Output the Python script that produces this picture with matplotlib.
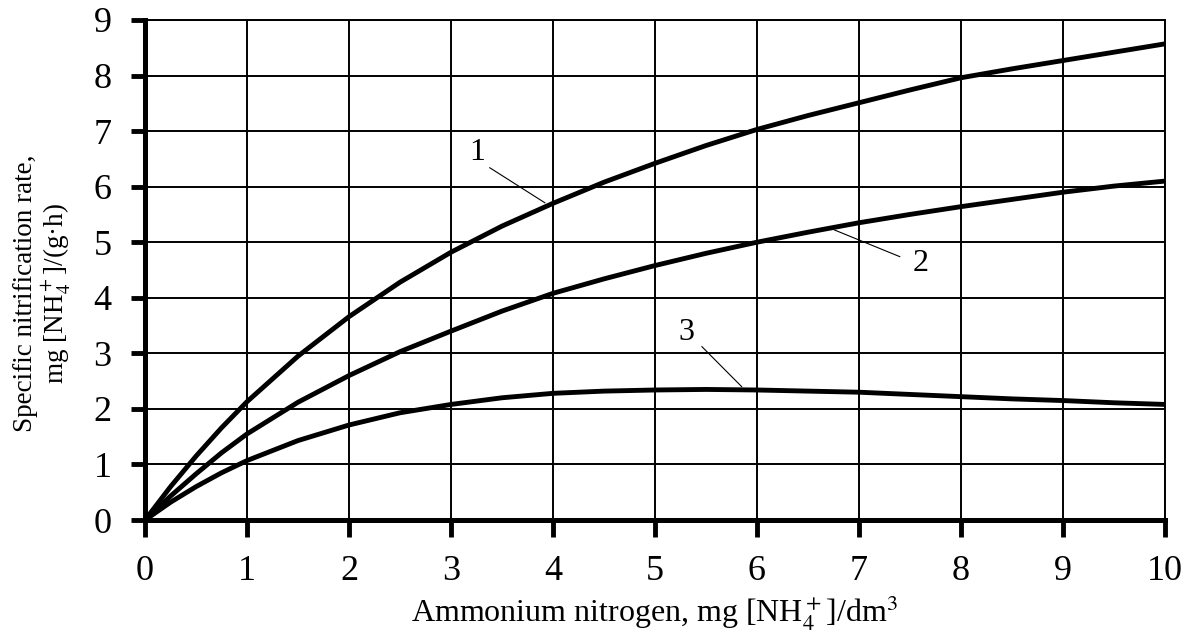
import matplotlib.pyplot as plt
import numpy as np

# values
x = [0, 0.25, 0.5, 0.75, 1, 1.5, 2, 2.5, 3, 3.5, 4, 4.5, 5, 5.5, 6, 6.5, 7, 7.5, 8, 8.5, 9, 9.5, 10]
rate_1 = [0, 0.60, 1.15, 1.66, 2.13, 2.95, 3.66, 4.28, 4.82, 5.29, 5.70, 6.08, 6.42, 6.74, 7.03,
          7.28, 7.51, 7.74, 7.96, 8.12, 8.27, 8.42, 8.57]
rate_2 = [0, 0.43, 0.83, 1.21, 1.55, 2.12, 2.60, 3.03, 3.40, 3.76, 4.08, 4.34, 4.58, 4.80, 5.00,
          5.18, 5.35, 5.50, 5.64, 5.77, 5.90, 6.01, 6.10]
rate_3 = [0, 0.32, 0.60, 0.85, 1.07, 1.43, 1.71, 1.93, 2.08, 2.20, 2.28, 2.32, 2.34, 2.35, 2.34,
          2.32, 2.30, 2.26, 2.22, 2.18, 2.15, 2.11, 2.08]

curve_labels = ['1', '2', '3']
label_pos = [(3.26, 6.61), (7.60, 4.62), (5.31, 3.37)]
leader_start = [(3.38, 6.34), (7.40, 4.74), (5.46, 3.12)]
leader_end = [(3.92, 5.71), (6.76, 5.22), (5.85, 2.40)]

plt.rcParams['font.family'] = ['Liberation Serif', 'DejaVu Serif']
plt.rcParams['mathtext.fontset'] = 'stix'

fig = plt.figure(figsize=(11.92, 6.3), dpi=100)
ax = fig.add_axes([0.1217, 0.1746, 0.8556, 0.7937])

for ys in (rate_1, rate_2, rate_3):
    ax.plot(x, ys, color='black', lw=3.5, solid_capstyle='round', solid_joinstyle='round', zorder=3)

for lab, (tx, ty), (sx, sy), (ex, ey) in zip(curve_labels, label_pos, leader_start, leader_end):
    ax.text(tx, ty, lab, fontsize=23, ha='center', va='center')
    ax.plot([sx, ex], [sy, ey], color='black', lw=0.8, zorder=2)

ax.set_xlim(0, 10)
ax.set_ylim(0, 9)
ax.set_xticks(np.arange(0, 11, 1))
ax.set_yticks(np.arange(0, 10, 1))
ax.grid(True, color='black', lw=1.4)
ax.set_axisbelow(True)

for side in ('top', 'right'):
    ax.spines[side].set_linewidth(1.4)
for side in ('left', 'bottom'):
    ax.spines[side].set_linewidth(3.6)

ax.tick_params(axis='x', direction='out', length=12, width=3.5, labelsize=26, pad=13)
ax.tick_params(axis='y', direction='out', length=10, width=3.5, labelsize=26, pad=14)

ax.set_xlabel('Ammonium nitrogen, mg [NH$_4^+$]/dm$^3$', fontsize=23, labelpad=4)
ax.set_ylabel('Specific nitrification rate,\nmg [NH$_4^+$]/(g·h)', fontsize=19.5, linespacing=1.05)
ax.yaxis.set_label_coords(-0.070, 0.454)

fig.savefig('out.png', dpi=100, facecolor='white')
